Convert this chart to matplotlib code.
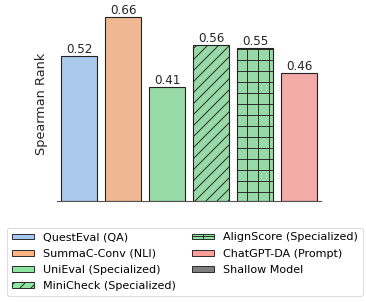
import colorsys
import matplotlib.pyplot as plt
from matplotlib.colors import to_rgb
from matplotlib.patches import Patch

models = ['QuestEval (QA)', 'SummaC-Conv (NLI)', 'UniEval (Specialized)',
          'MiniCheck (Specialized)', 'AlignScore (Specialized)', 'ChatGPT-DA (Prompt)']
scores = [0.52, 0.66, 0.41, 0.56, 0.55, 0.46]
colors = ['#a1c9f4', '#ffb482', '#8de5a1', '#8de5a1', '#8de5a1', '#ff9f9b']
hatches = ['', '', '', '//', '+', '']


def desat(c, prop=0.75):
    h, l, s = colorsys.rgb_to_hls(*to_rgb(c))
    return colorsys.hls_to_rgb(h, l, s * prop)


dpi = 66.6
fig = plt.figure(figsize=(366 / dpi, 302 / dpi), dpi=dpi)
ax = fig.add_axes([0.156, 0.334, 0.721, 0.646])
plt.rcParams['hatch.linewidth'] = 1.0

x = range(len(models))
bars = ax.bar(x, scores, width=0.8, color=[desat(c) for c in colors],
              edgecolor='#222222', linewidth=1.2, hatch=hatches)
for b, v in zip(bars, scores):
    ax.text(b.get_x() + b.get_width() / 2, v, f'{v:.2f}', ha='center', va='bottom',
            fontsize=13, color='#262626')

ax.set_xlim(-0.5, 5.5)
ax.set_ylim(0, 0.7)
ax.set_xticks([])
ax.set_yticks([])
for s in ['top', 'right', 'left']:
    ax.spines[s].set_visible(False)
ax.spines['bottom'].set_color('#555555')
ax.spines['bottom'].set_linewidth(1.2)
ax.set_ylabel('Spearman Rank', fontsize=14, color='#262626', labelpad=10)

handles = [Patch(facecolor=c, edgecolor='#222222', hatch=h, label=m)
           for m, c, h in zip(models, colors, hatches)]
handles.append(Patch(facecolor='#808080', edgecolor='#222222', label='Shallow Model'))
fig.legend(handles=handles, loc='lower center', ncol=2,
           bbox_to_anchor=(0.505, 0.003), fontsize=12, frameon=True,
           handlelength=2.0, handleheight=0.45, columnspacing=1.5,
           labelspacing=0.56, borderpad=0.4, edgecolor='#d0d0d0', fancybox=True)

fig.savefig('out.png', dpi=dpi)
